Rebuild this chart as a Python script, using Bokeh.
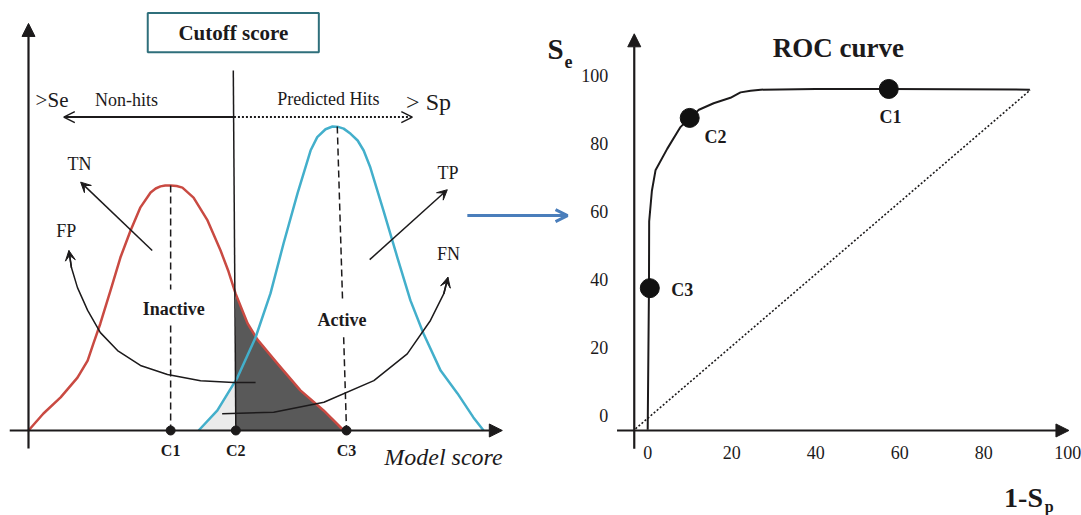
import numpy as np
from bokeh.plotting import figure
from bokeh.models import Range1d, LinearAxis, FixedTicker, Arrow, NormalHead, OpenHead, VeeHead
from bokeh.core.properties import value
from bokeh.embed import file_html
from bokeh.resources import INLINE

# ---------------- data: left panel (model score vs. density, arbitrary units) -------------
inactive_score = [0.00, 0.47, 1.01, 1.54, 1.86, 2.04, 2.26, 2.58, 2.89, 3.21, 3.52, 3.84, 4.00, 4.15,
                  4.30, 4.47, 4.66, 4.84, 5.19, 5.63, 6.04, 6.29, 6.51, 6.89, 7.20, 7.83, 8.55, 9.28, 9.91]
inactive_density = [0.0, 5.6, 10.9, 17.4, 23.0, 28.6, 35.2, 46.1, 56.9, 65.8, 73.4, 78.3, 79.6, 80.3,
                    80.6, 80.6, 80.4, 79.9, 76.6, 69.1, 59.2, 52.3, 45.1, 35.2, 29.9, 22.0, 13.2, 6.6, 0.0]
active_score = [5.35, 5.94, 6.57, 7.14, 7.61, 8.02, 8.46, 8.87, 9.08, 9.34, 9.56, 9.76, 9.91, 10.13,
                10.35, 10.54, 10.75, 11.16, 11.60, 12.01, 12.42, 12.96, 13.49, 13.99, 14.31]
active_density = [0.0, 6.6, 17.4, 30.6, 45.1, 61.5, 78.0, 92.1, 96.5, 99.1, 100.0, 99.8, 99.3, 97.6,
                  95.4, 92.1, 86.5, 72.4, 56.9, 42.8, 31.9, 19.7, 12.2, 4.3, 0.0]
cutoff_names = ["C1", "C2", "C3"]
cutoff_scores = [4.47, 6.52, 10.0]
fp_path_score = [7.14, 6.45, 5.41, 4.37, 3.52, 2.80, 2.26, 1.86, 1.54, 1.35, 1.27]
fp_path_density = [15.8, 15.8, 16.4, 18.4, 21.4, 26.3, 32.2, 39.5, 47.0, 53.6, 59.2]
fn_path_score = [6.09, 7.71, 9.29, 10.86, 11.91, 12.64, 13.06, 13.19]
fn_path_density = [5.5, 6.0, 9.3, 16.4, 25.2, 36.2, 45.0, 50.4]

# ---------------- data: ROC curve (1-Sp vs Se, %) ----------------
roc_fpr = [0.0, 0.3, 0.35, 1.0, 1.86, 4.64, 7.8, 10.0, 12.2, 15.7, 19.7, 22.1, 24.5, 26.9, 40.0, 57.4, 91.0]
roc_tpr = [-4.2, 37.4, 57.0, 66.0, 72.0, 78.3, 84.7, 87.4, 89.8, 91.7, 93.3, 94.9, 95.4, 95.7, 95.9, 95.9, 95.7]
roc_point_names = ["C1", "C2", "C3"]
roc_point_fpr = [57.4, 10.0, 0.5]
roc_point_tpr = [95.9, 87.4, 37.4]
chance_fpr = [-2.9, 91.1]
chance_tpr = [-3.9, 95.6]
roc_ticks = [0, 20, 40, 60, 80, 100]

# ---------------- styles ----------------
RED = "#c94a42"
CYAN = "#43afcb"
BLUE = "#4a7ebb"
INK = "#1c1a1b"
FONT = "Liberation Serif"

p = figure(width=1081, height=515,
           x_range=Range1d(-0.8805, 33.113), y_range=Range1d(-27.961, 141.447),
           x_axis_location=None, y_axis_location=None,
           toolbar_location=None, output_backend="svg", min_border=0)
p.outline_line_color = None
p.grid.visible = False
p.background_fill_color = "white"
p.extra_x_ranges = {"roc": Range1d(-154.095, 103.286)}
p.extra_y_ranges = {"roc": Range1d(-29.369, 121.880)}
R = dict(x_range_name="roc", y_range_name="roc")


def label(x, y, txt, size, style="normal", roc=False, align="center", color=INK):
    kw = R if roc else {}
    p.text(x=[x], y=[y], text=[txt], text_font=value(FONT), text_font_size=f"{size}px",
           text_font_style=style, text_align=align, text_baseline="middle",
           text_color=color, **kw)


# ---------------- left panel ----------------
rs, rd = np.array(inactive_score), np.array(inactive_density)
as_, ad = np.array(active_score), np.array(active_density)
cut = cutoff_scores[1]

m = rs > cut
p.varea(x=np.concatenate([[cut], rs[m]]), y1=0,
        y2=np.concatenate([[np.interp(cut, rs, rd)], rd[m]]), fill_color="#595959")
m2 = as_ < cut
p.varea(x=np.concatenate([as_[m2], [cut]]), y1=0,
        y2=np.concatenate([ad[m2], [np.interp(cut, as_, ad)]]), fill_color="#ebebeb")

p.line(inactive_score, inactive_density, line_color=RED, line_width=2.5, line_join="round")
p.line(active_score, active_density, line_color=CYAN, line_width=2.5, line_join="round")

# dashed peak markers (with gaps for the labels)
c1 = cutoff_scores[0]
ipk = float(rd.max())
p.multi_line(xs=[[c1, c1], [c1, c1]], ys=[[ipk, 46.4], [34.5, 0]],
             line_color=INK, line_width=1.5, line_dash="7 4")
apk = float(ad.max())
xt, xb = 9.71, cutoff_scores[2]
def ax_at(d):
    return xb + (xt - xb) * d / apk
p.multi_line(xs=[[xt, ax_at(42.2)], [ax_at(30.7), xb]], ys=[[apk, 42.2], [30.7, 0]],
             line_color=INK, line_width=1.5, line_dash="7 4")

# cutoff vertical line
p.line([cut - 0.08, cut], [118.4, 0], line_color=INK, line_width=1.5)

# axes of the left panel
p.add_layout(Arrow(end=NormalHead(size=13, fill_color=INK, line_color=INK), x_start=-0.59, y_start=0,
                   x_end=14.9, y_end=0, line_width=2.2, line_color=INK))
p.add_layout(Arrow(end=NormalHead(size=13, fill_color=INK, line_color=INK), x_start=0, y_start=-5.9,
                   x_end=0, y_end=133.9, line_width=2.2, line_color=INK))

p.scatter(cutoff_scores, [0, 0, 0], size=9, color=INK)
for nm, s in zip(cutoff_names, cutoff_scores):
    label(s, -6.7, nm, 16, "bold")
label(13.05, -8.6, "Model score", 24, "italic")

# cutoff box
p.quad(left=3.75, right=9.13, bottom=124.4, top=137.3, fill_color=None,
       line_color="#2f6f7b", line_width=2)
label(6.44, 130.9, "Cutoff score", 21, "bold")

# hits / non-hits arrows
p.add_layout(Arrow(end=OpenHead(size=11, line_width=1.5, line_color=INK), x_start=cut - 0.06, y_start=103.1,
                   x_end=1.11, y_end=103.1, line_width=2, line_color=INK))
p.add_layout(Arrow(end=OpenHead(size=11, line_width=1.5, line_color=INK), x_start=cut - 0.06, y_start=103.1,
                   x_end=12.07, y_end=103.1, line_width=2, line_color=INK, line_dash="2 2"))
label(0.74, 108.6, ">Se", 21)
label(3.08, 108.6, "Non-hits", 18)
label(9.43, 109.2, "Predicted Hits", 18)
label(12.58, 107.9, "> Sp", 24)

# TN / TP arrows
p.add_layout(Arrow(end=VeeHead(size=10, fill_color=INK, line_color=INK), x_start=3.89, y_start=59.2,
                   x_end=1.64, y_end=81.7, line_width=1.5, line_color=INK))
p.add_layout(Arrow(end=VeeHead(size=10, fill_color=INK, line_color=INK), x_start=10.73, y_start=56.2,
                   x_end=13.17, y_end=79.2, line_width=1.5, line_color=INK))
label(1.60, 87.8, "TN", 18)
label(13.19, 84.7, "TP", 18)

# FP / FN curved arrows
p.line(fp_path_score, fp_path_density, line_color=INK, line_width=1.5, line_join="round")
p.add_layout(Arrow(end=VeeHead(size=10, fill_color=INK, line_color=INK),
                   x_start=fp_path_score[-2], y_start=fp_path_density[-2],
                   x_end=fp_path_score[-1], y_end=fp_path_density[-1], line_width=1.5, line_color=INK))
p.line(fn_path_score, fn_path_density, line_color=INK, line_width=1.5, line_join="round")
p.add_layout(Arrow(end=VeeHead(size=10, fill_color=INK, line_color=INK),
                   x_start=fn_path_score[-2], y_start=fn_path_density[-2],
                   x_end=fn_path_score[-1], y_end=fn_path_density[-1], line_width=1.5, line_color=INK))
label(1.19, 65.5, "FP", 18)
label(13.21, 58.2, "FN", 18)

label(4.57, 40.1, "Inactive", 18, "bold")
label(9.86, 36.2, "Active", 18, "bold")

# blue connecting arrow
p.add_layout(Arrow(end=OpenHead(size=12, line_width=3, line_color=BLUE), x_start=13.80, y_start=70.7,
                   x_end=16.95, y_end=70.7, line_width=3, line_color=BLUE))

# ---------------- right panel: ROC ----------------
p.line(chance_fpr, chance_tpr, line_color=INK, line_width=1.6, line_dash="2 2", **R)
p.line(roc_fpr, roc_tpr, line_color=INK, line_width=2, line_join="round", **R)
p.scatter(roc_point_fpr, roc_point_tpr, size=19, color="#111111", **R)
label(57.8, 87.6, "C1", 18, "bold", roc=True)
label(16.14, 81.7, "C2", 18, "bold", roc=True)
label(8.2, 36.9, "C3", 18, "bold", roc=True)
label(45.4, 107.8, "ROC curve", 27, "bold", roc=True)

p.add_layout(Arrow(end=NormalHead(size=13, fill_color=INK, line_color=INK), x_start=-7.3, y_start=-4.4,
                   x_end=100.3, y_end=-4.4, line_width=2.2, line_color=INK, **R))
p.add_layout(Arrow(end=NormalHead(size=13, fill_color=INK, line_color=INK), x_start=-3.2, y_start=-9.8,
                   x_end=-3.2, y_end=112.1, line_width=2.2, line_color=INK, **R))

xax = LinearAxis(x_range_name="roc", y_range_name="roc", fixed_location=-4.4,
                 ticker=FixedTicker(ticks=roc_ticks, minor_ticks=[]))
yax = LinearAxis(x_range_name="roc", y_range_name="roc", fixed_location=-3.2,
                 ticker=FixedTicker(ticks=roc_ticks, minor_ticks=[]))
for ax, so in ((xax, 16), (yax, 26)):
    ax.axis_line_color = None
    ax.major_tick_line_color = None
    ax.minor_tick_line_color = None
    ax.major_tick_out = 0
    ax.major_tick_in = 0
    ax.major_label_standoff = so
    ax.major_label_text_font = FONT
    ax.major_label_text_font_size = "18px"
    ax.major_label_text_color = INK
p.add_layout(xax, "below")
p.add_layout(yax, "left")

label(-21.95, 107.5, "S", 29, "bold", roc=True)
label(-18.86, 103.96, "e", 18, "bold", roc=True)
label(89.48, -24.2, "1-S", 28, "bold", roc=True)
label(95.6, -26.6, "p", 16, "bold", roc=True)

open("out.html", "w").write(file_html(p, INLINE))
